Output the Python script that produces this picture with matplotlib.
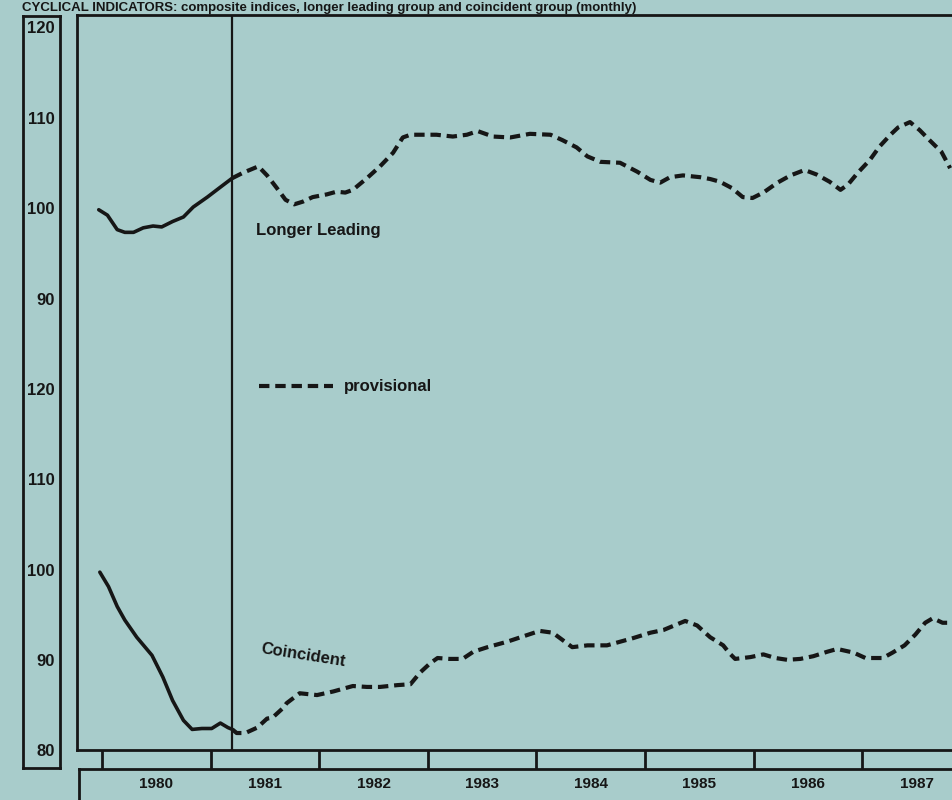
import numpy as np
import matplotlib.pyplot as plt
from matplotlib.transforms import blended_transform_factory

plt.rcParams['font.family'] = ['Liberation Sans', 'DejaVu Sans']

# Longer leading index (upper panel), time in decimal years
lead_solid_t = [1979.97, 1980.05, 1980.14, 1980.21, 1980.29, 1980.38, 1980.47,
                1980.55, 1980.65, 1980.75, 1980.84, 1980.97, 1981.09, 1981.20]
lead_solid_v = [100.0, 99.4, 97.8, 97.5, 97.5, 98.0, 98.2,
                98.1, 98.7, 99.2, 100.3, 101.4, 102.5, 103.5]
lead_prov_t = [1981.20, 1981.30, 1981.44, 1981.52, 1981.61, 1981.69, 1981.77,
               1981.85, 1981.94, 1982.07, 1982.16, 1982.24, 1982.31, 1982.44,
               1982.56, 1982.68, 1982.77, 1982.84, 1983.08, 1983.23, 1983.36,
               1983.46, 1983.60, 1983.76, 1983.94, 1984.13, 1984.24, 1984.37,
               1984.47, 1984.59, 1984.77, 1984.93, 1985.05, 1985.14, 1985.23,
               1985.35, 1985.51, 1985.60, 1985.69, 1985.80, 1985.90, 1985.99,
               1986.09, 1986.22, 1986.34, 1986.47, 1986.58, 1986.70, 1986.80,
               1986.87, 1986.96, 1987.07, 1987.16, 1987.26, 1987.33, 1987.44,
               1987.53, 1987.62, 1987.73, 1987.81]
lead_prov_v = [103.5, 104.1, 104.8, 103.8, 102.4, 101.1, 100.6,
               100.9, 101.4, 101.7, 102.0, 101.9, 102.2, 103.5,
               104.8, 106.3, 108.0, 108.3, 108.3, 108.1, 108.3,
               108.7, 108.1, 108.0, 108.4, 108.3, 107.7, 106.9,
               105.9, 105.3, 105.2, 104.2, 103.3, 103.0, 103.6,
               103.8, 103.6, 103.4, 103.1, 102.4, 101.4, 101.3,
               101.9, 103.0, 103.8, 104.4, 103.9, 103.1, 102.2,
               102.8, 104.1, 105.5, 107.0, 108.3, 109.1, 109.7,
               108.8, 107.7, 106.4, 104.6]

# Coincident index (lower panel)
coin_solid_t = [1979.98, 1980.06, 1980.14, 1980.21, 1980.32, 1980.46, 1980.56,
                1980.65, 1980.75, 1980.83, 1980.92, 1981.01, 1981.09, 1981.16,
                1981.20]
coin_solid_v = [99.9, 98.3, 96.1, 94.6, 92.7, 90.7, 88.3,
                85.7, 83.5, 82.5, 82.6, 82.6, 83.2, 82.7,
                82.5]
coin_prov_t = [1981.20, 1981.24, 1981.32, 1981.43, 1981.52, 1981.57, 1981.67,
               1981.70, 1981.82, 1981.98, 1982.13, 1982.31, 1982.44, 1982.56,
               1982.72, 1982.84, 1982.93, 1983.02, 1983.09, 1983.20, 1983.32,
               1983.42, 1983.55, 1983.73, 1983.88, 1984.03, 1984.15, 1984.24,
               1984.33, 1984.47, 1984.65, 1984.74, 1984.89, 1985.05, 1985.17,
               1985.29, 1985.37, 1985.48, 1985.60, 1985.72, 1985.78, 1985.83,
               1985.97, 1986.09, 1986.20, 1986.31, 1986.43, 1986.55, 1986.68,
               1986.77, 1986.92, 1987.03, 1987.19, 1987.28, 1987.39, 1987.49,
               1987.58, 1987.65, 1987.74, 1987.83]
coin_prov_v = [82.5, 82.1, 82.1, 82.7, 83.7, 83.8, 84.9,
               85.4, 86.5, 86.3, 86.7, 87.3, 87.2, 87.2,
               87.4, 87.5, 88.8, 89.8, 90.4, 90.3, 90.3,
               91.1, 91.6, 92.2, 92.8, 93.4, 93.2, 92.4,
               91.6, 91.8, 91.8, 92.1, 92.6, 93.2, 93.5,
               94.1, 94.5, 94.0, 92.7, 91.8, 90.9, 90.3,
               90.5, 90.8, 90.4, 90.2, 90.3, 90.6, 91.1,
               91.4, 91.0, 90.4, 90.4, 91.0, 91.8, 93.0,
               94.3, 94.8, 94.3, 94.3]

years = [1980, 1981, 1982, 1983, 1984, 1985, 1986, 1987]
lower_ticks = [80, 90, 100, 110, 120]
upper_ticks = [90, 100, 110, 120]
upper_shift = 40   # upper panel drawn 40 units above the lower one
split_year = 1981.2

bg = '#a8cccb'
ink = '#161616'

fig = plt.figure(figsize=(9.52, 8), dpi=100, facecolor=bg)
W, H = 952.0, 800.0

def px_box(x0, y0, x1, y1):
    return [x0 / W, 1 - y1 / H, (x1 - x0) / W, (y1 - y0) / H]

# y scale: value 80 at pixel 752, 9.0375 px per unit
def y_at(p):
    return 80 + (752 - p) / 9.0375

# x scale: 1980 at pixel 102, 108.6 px per year
def x_at(p):
    return 1980 + (p - 102) / 108.6

# main plotting box (runs off the right edge, as in the scan)
ax = fig.add_axes(px_box(77, 15, 1010, 750))
ax.set_facecolor('none')
ax.set_xlim(x_at(77), x_at(1010))
ax.set_ylim(y_at(750), y_at(15))
ax.set_xticks([])
ax.set_yticks([])
for s in ['left', 'top', 'bottom']:
    ax.spines[s].set_linewidth(2)
    ax.spines[s].set_color(ink)
ax.spines['right'].set_visible(False)

ax.axvline(split_year, color=ink, lw=1.6)

dash = (2.5, 1.4)
ax.plot(lead_solid_t, np.array(lead_solid_v) + upper_shift, color=ink, lw=2.6,
        solid_capstyle='round')
ax.plot(lead_prov_t, np.array(lead_prov_v) + upper_shift, color=ink, lw=3.0,
        dashes=dash)
ax.plot(coin_solid_t, coin_solid_v, color=ink, lw=2.6, solid_capstyle='round')
ax.plot(coin_prov_t, coin_prov_v, color=ink, lw=3.0, dashes=dash)

ax.text(x_at(256), y_at(230), 'Longer Leading', ha='left', va='center',
        fontsize=12, fontweight='bold', color=ink)
ax.text(x_at(303), y_at(655), 'Coincident', ha='center', va='center',
        fontsize=12, fontweight='bold', color=ink, rotation=-9)
ax.plot([x_at(259), x_at(333)], [y_at(386), y_at(386)], color=ink, lw=3.0,
        dashes=dash)
ax.text(x_at(344), y_at(387), 'provisional', ha='left', va='center',
        fontsize=12, fontweight='bold', color=ink)

# left box with the value labels
axl = fig.add_axes(px_box(23, 16, 60, 768))
axl.set_facecolor('none')
axl.set_xlim(0, 1)
axl.set_ylim(y_at(768), y_at(16))
axl.set_xticks([])
axl.set_yticks([])
for s in axl.spines.values():
    s.set_linewidth(2)
    s.set_color(ink)
for v in lower_ticks:
    axl.text(0.86, v, str(v), ha='right', va='center', fontsize=12,
             fontweight='bold', color=ink)
for v in upper_ticks:
    axl.text(0.86, v + upper_shift, str(v), ha='right', va='center',
             fontsize=12, fontweight='bold', color=ink)

# year box under the chart, with the year ticks above it
axx = fig.add_axes(px_box(79, 769, 1010, 830))
axx.set_facecolor('none')
axx.set_xlim(x_at(79), x_at(1010))
axx.set_ylim(0, 1)
axx.set_yticks([])
axx.xaxis.tick_top()
axx.set_xticks(years + [1988])
axx.set_xticklabels([])
axx.tick_params(axis='x', direction='out', length=19 * 0.72, width=2,
                color=ink)
for s in ['right', 'bottom']:
    axx.spines[s].set_visible(False)
for s in ['left', 'top']:
    axx.spines[s].set_linewidth(2)
    axx.spines[s].set_color(ink)

tr = blended_transform_factory(ax.transData, fig.transFigure)
for yr in years:
    fig.text(yr + 0.5, 1 - 784 / H, str(yr), transform=tr, ha='center',
             va='center', fontsize=11, fontweight='bold', color=ink)

# title squeezed into the strip above the chart box
fig.text(22 / W, 1 - 10.5 / H,
         'CYCLICAL INDICATORS: composite indices, longer leading group and coincident group (monthly)',
         ha='left', va='baseline', fontsize=9.5, fontweight='bold', color=ink)

fig.savefig('out.png', dpi=100, facecolor=bg)
